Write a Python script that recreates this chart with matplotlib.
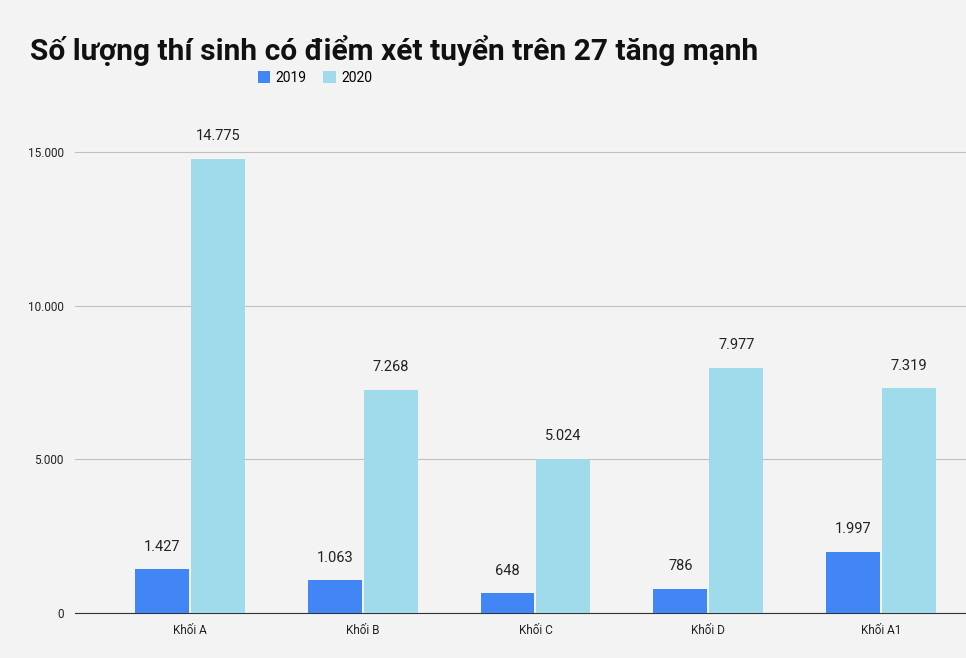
import matplotlib
matplotlib.use("Agg")
import matplotlib.pyplot as plt
import numpy as np

plt.rcParams['font.family'] = ['Roboto', 'DejaVu Sans']

categories = ["Khối A", "Khối B", "Khối C", "Khối D", "Khối A1"]
v2019 = [1427, 1063, 648, 786, 1997]
v2020 = [14775, 7268, 5024, 7977, 7319]
labels2019 = ["1.427", "1.063", "648", "786", "1.997"]
labels2020 = ["14.775", "7.268", "5.024", "7.977", "7.319"]
yticks = [0, 5000, 10000, 15000]
yticklabels = ["0", "5.000", "10.000", "15.000"]

bg = "#f3f3f3"
fig = plt.figure(figsize=(9.66, 6.58), dpi=100, facecolor=bg)
ax = fig.add_axes([75/966, 1-613/658, (966-75)/966, (613-100)/658])
ax.set_facecolor(bg)

x = np.arange(len(categories))
w = 0.312
off = 0.5*w + 1/173
b1 = ax.bar(x - off, v2019, w, color="#4285f4", label="2019", zorder=3)
b2 = ax.bar(x + off, v2020, w, color="#9fdbea", label="2020", zorder=3)
for rect, t in zip(b1, labels2019):
    ax.text(rect.get_x()+rect.get_width()/2, rect.get_height()+500, t,
            ha="center", va="bottom", fontsize=10.5, color="#222222")
for rect, t in zip(b2, labels2020):
    ax.text(rect.get_x()+rect.get_width()/2, rect.get_height()+500, t,
            ha="center", va="bottom", fontsize=10.5, color="#222222")

ax.set_xlim(-115/173, 4 + 85/173)
ax.set_ylim(0, 16690)
ax.set_yticks(yticks)
ax.set_yticklabels(yticklabels, fontsize=8.5, color="#222222")
ax.set_xticks(x)
ax.set_xticklabels(categories, fontsize=8.5, color="#222222")
ax.tick_params(length=0, pad=8)
ax.grid(axis="y", color="#c0c0c0", linewidth=0.8, zorder=0)
for s in ["top", "right", "left"]:
    ax.spines[s].set_visible(False)
ax.spines["bottom"].set_color("#333333")

fig.text(30/966, 1-50/658, "Số lượng thí sinh có điểm xét tuyển trên 27 tăng mạnh",
         fontsize=21.5, fontweight="bold", va="center", ha="left", color="#111111")
fig.legend(handles=[b1, b2], labels=["2019", "2020"], loc="center",
           bbox_to_anchor=(315/966, 1-78/658), ncol=2, frameon=False,
           fontsize=10, handlelength=0.9, handleheight=0.9, columnspacing=1.2,
           handletextpad=0.4)
fig.savefig("out.png", dpi=100, facecolor=bg)
